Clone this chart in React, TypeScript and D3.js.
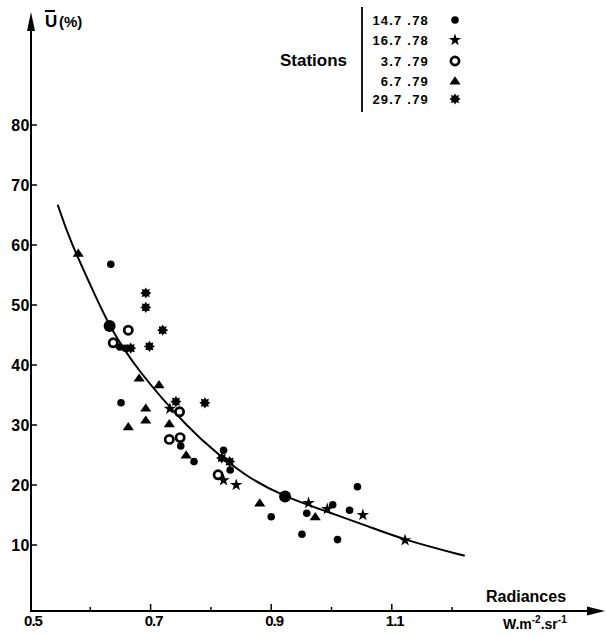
import * as d3 from "d3";

// mean radiance (W.m-2.sr-1) vs U (%)
const station147 = [
  [0.634, 56.8], [0.649, 43.0], [0.658, 42.8], [0.651, 33.7], [0.75, 26.5],
  [0.772, 23.9], [0.821, 25.8], [0.832, 22.5], [0.9, 14.7], [0.959, 15.3],
  [1.002, 16.7], [1.03, 15.8], [1.043, 19.7], [0.951, 11.8], [1.01, 10.9],
];
const station147Means = [[0.632, 46.5], [0.923, 18.1]];
const station1678 = [
  [0.732, 32.7], [0.821, 20.8], [0.842, 20.0], [0.962, 17.0], [0.993, 16.0],
  [1.052, 15.0], [1.122, 10.8],
];
const station379 = [
  [0.663, 45.8], [0.638, 43.7], [0.748, 32.2], [0.731, 27.6], [0.749, 27.9],
  [0.812, 21.7],
];
const station679 = [
  [0.58, 58.6], [0.681, 37.8], [0.714, 36.7], [0.692, 32.8], [0.692, 30.8],
  [0.663, 29.7], [0.731, 30.2], [0.759, 25.0], [0.881, 17.0], [0.973, 14.7],
];
const station2979 = [
  [0.692, 52.0], [0.692, 49.6], [0.72, 45.8], [0.667, 42.8], [0.698, 43.1],
  [0.742, 33.9], [0.79, 33.7], [0.818, 24.5], [0.831, 23.9],
];
// fitted curve, sampled along the drawn line
const fitCurve = [
  [0.546, 66.7], [0.566, 60.8], [0.604, 52.5], [0.631, 46.5], [0.677, 39.2],
  [0.765, 29.2], [0.81, 25.3], [0.86, 21.3], [0.923, 18.0], [0.986, 15.8],
  [1.064, 13.0], [1.122, 10.8], [1.221, 8.2],
];

const xTicks = [0.6, 0.7, 0.8, 0.9, 1.0, 1.1, 1.2];
const xTickLabels = [0.5, 0.7, 0.9, 1.1];
const yTicks = [10, 20, 30, 40, 50, 60, 70, 80];
const legendLabels = ["14.7 .78", "16.7 .78", "3.7 .79", "6.7 .79", "29.7 .79"];

const FONT = "'Liberation Sans', Arial, Helvetica, sans-serif";
const INK = "#000";

const x = d3.scaleLinear().domain([0.5, 1.2]).range([30, 452.1]);
const y = d3.scaleLinear().domain([0, 80]).range([605, 125]);

const AXIS_X = 31;
const AXIS_Y = 611;

const triPath = "M0,-4.8L5.6,3.4L-5.6,3.4Z";
const starPath = d3.symbol().type(d3.symbolStar).size(48)() as string;
const gearPath = (() => {
  const pts: string[] = [];
  for (let i = 0; i < 16; i++) {
    const r = i % 2 === 0 ? 5.6 : 3.6;
    const a = (Math.PI * i) / 8 - Math.PI / 2;
    pts.push(`${(r * Math.cos(a)).toFixed(2)},${(r * Math.sin(a)).toFixed(2)}`);
  }
  return "M" + pts.join("L") + "Z";
})();

function Marker({ kind, cx, cy }: { kind: number; cx: number; cy: number }) {
  const t = `translate(${cx},${cy})`;
  if (kind === 0) return <circle cx={cx} cy={cy} r={3.8} fill={INK} />;
  if (kind === 1) return <path d={starPath} transform={t} fill={INK} />;
  if (kind === 2)
    return <circle cx={cx} cy={cy} r={4.1} fill="#fff" stroke={INK} strokeWidth={2.7} />;
  if (kind === 3) return <path d={triPath} transform={t} fill={INK} />;
  return <path d={gearPath} transform={t} fill={INK} />;
}

export default function App() {
  const line = d3
    .line<number[]>()
    .x((d) => x(d[0]))
    .y((d) => y(d[1]))
    .curve(d3.curveBasis);

  const series = [station147, station1678, station379, station679, station2979];
  const legendRows = [20, 40, 61, 81, 99];

  return (
    <>
      <style>{"body{margin:0}"}</style>
      <svg width={607} height={636} style={{ display: "block", background: "#fff" }} fontFamily={FONT}>
        {/* axes */}
        <line x1={AXIS_X} y1={28} x2={AXIS_X} y2={AXIS_Y + 1} stroke={INK} strokeWidth={2} />
        <path d={`M${AXIS_X},12L${AXIS_X + 4},31L${AXIS_X - 4},31Z`} fill={INK} />
        <line x1={AXIS_X - 1} y1={AXIS_Y} x2={590} y2={AXIS_Y} stroke={INK} strokeWidth={2} />
        <path d={`M605,${AXIS_Y}L587,${AXIS_Y - 4.5}L587,${AXIS_Y + 4.5}Z`} fill={INK} />

        {yTicks.map((v) => (
          <g key={v}>
            <line x1={AXIS_X} x2={AXIS_X + 6} y1={y(v)} y2={y(v)} stroke={INK} strokeWidth={1.5} />
            <text x={AXIS_X - 1} y={y(v) + 6} textAnchor="end" fontSize={16} fontWeight={700} letterSpacing={0.5}>
              {v}
            </text>
          </g>
        ))}
        {xTicks.map((v) => {
          const major = xTickLabels.some((l) => Math.abs(l - v) < 1e-9);
          return (
            <line key={v} x1={x(v)} x2={x(v)} y1={AXIS_Y} y2={AXIS_Y - (major ? 7 : 4)} stroke={INK} strokeWidth={1.5} />
          );
        })}
        {xTickLabels.map((v) => (
          <text key={v} x={x(v) + 3} y={626} textAnchor="middle" fontSize={15} fontWeight={700} letterSpacing={-1}>
            {v.toFixed(1)}
          </text>
        ))}

        {/* axis titles */}
        <text x={45} y={27} fontSize={17} fontWeight={700}>U</text>
        <line x1={45} x2={55} y1={11} y2={11} stroke={INK} strokeWidth={2} />
        <text x={59} y={27} fontSize={15} fontWeight={700}>(%)</text>
        <text x={486} y={602} fontSize={16} fontWeight={700}>Radiances</text>
        <text x={503} y={629} fontSize={14} fontWeight={700}>
          W.m<tspan dy={-6} fontSize={10}>-2</tspan>
          <tspan dy={6}>.sr</tspan>
          <tspan dy={-6} fontSize={10}>-1</tspan>
        </text>

        {/* fitted curve */}
        <path d={line(fitCurve) ?? ""} fill="none" stroke={INK} strokeWidth={2} />

        {/* stations */}
        {series.map((pts, k) =>
          pts.map((d, i) => <Marker key={`${k}-${i}`} kind={k} cx={x(d[0])} cy={y(d[1])} />)
        )}
        {station147Means.map((d, i) => (
          <circle key={`m${i}`} cx={x(d[0])} cy={y(d[1])} r={6} fill={INK} />
        ))}

        {/* legend */}
        <text x={280} y={66} fontSize={17} fontWeight={700}>Stations</text>
        <line x1={362} x2={362} y1={7} y2={112} stroke={INK} strokeWidth={1.8} />
        {legendLabels.map((lab, i) => (
          <g key={lab}>
            <text x={429} y={legendRows[i] + 5} textAnchor="end" fontSize={13} fontWeight={700} letterSpacing={1.2}>
              {lab}
            </text>
            <Marker kind={i} cx={455} cy={legendRows[i]} />
          </g>
        ))}
      </svg>
    </>
  );
}
